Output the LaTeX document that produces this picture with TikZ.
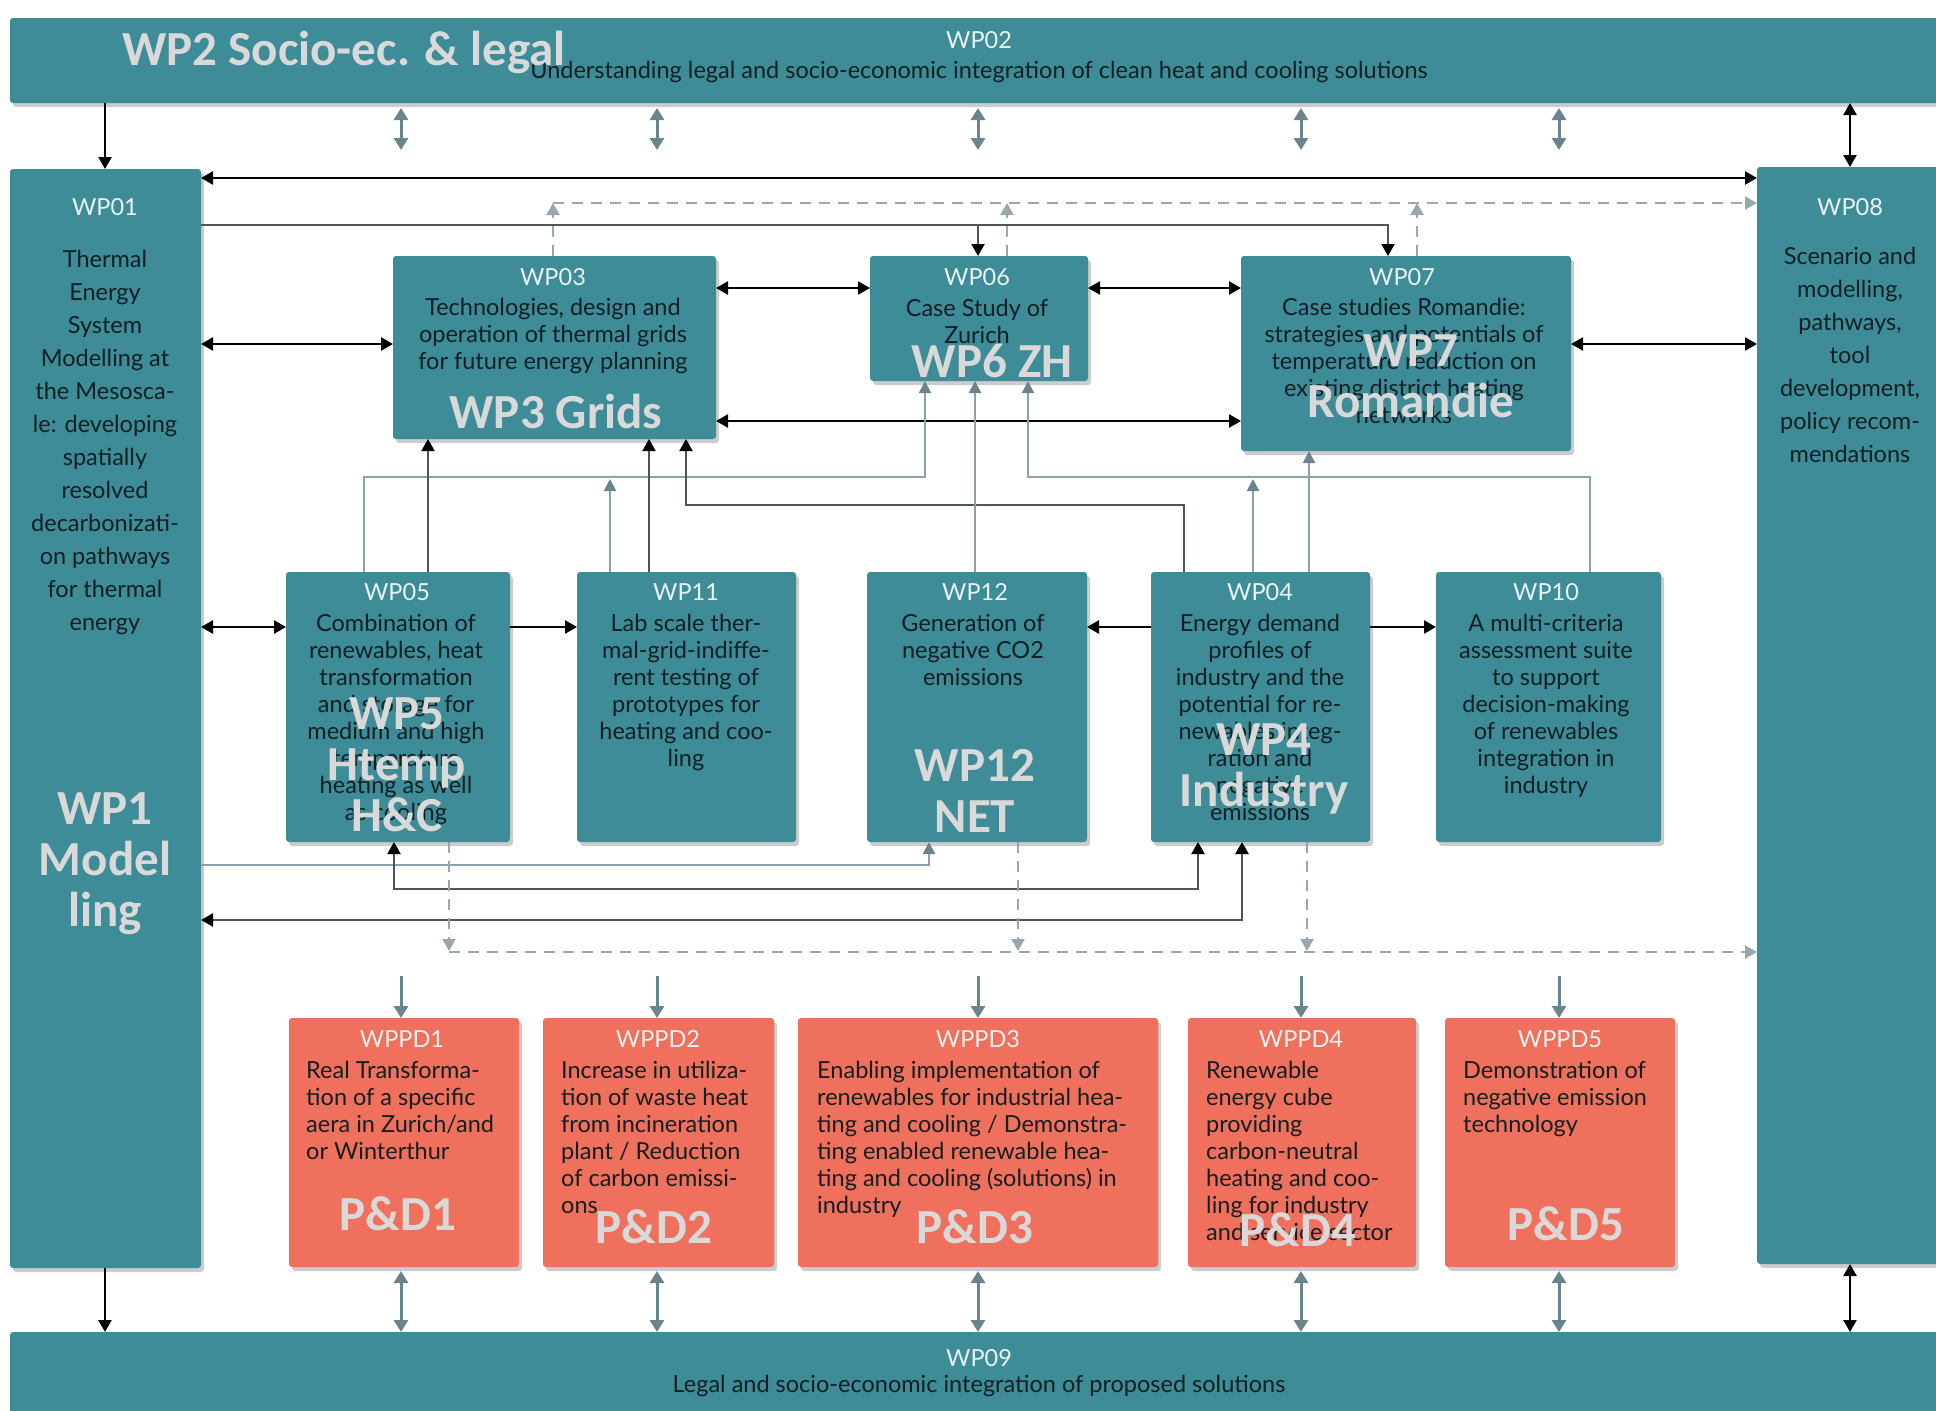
\documentclass[tikz,border=0pt]{standalone}
\usepackage{fontspec}
\setmainfont{Lato}
\newfontfamily\ovfont{Carlito}
\usetikzlibrary{arrows.meta,shadows}
\definecolor{tealc}{RGB}{62,140,151}
\definecolor{salmc}{RGB}{239,112,92}
\definecolor{garrowc}{RGB}{106,132,142}
\definecolor{glinec}{RGB}{140,162,170}
\definecolor{dlinec}{RGB}{80,86,88}
\definecolor{dashc}{RGB}{152,168,174}
\definecolor{txtc}{RGB}{20,32,36}
\definecolor{lblc}{RGB}{234,242,242}
\definecolor{ovc}{RGB}{217,217,217}
\begin{document}
\begin{tikzpicture}[x=1pt,y=-1pt,
  box/.style={fill=tealc, rounded corners=3pt, inner sep=0pt, outer sep=0pt, anchor=north west,
    drop shadow={shadow xshift=3pt,shadow yshift=-4pt,opacity=0.4}},
  pdbox/.style={box, fill=salmc},
  lbl/.style={inner sep=0pt, text=lblc, font=\fontsize{23.5}{27}\selectfont},
  btxt/.style={inner sep=0pt, text=txtc, align=center, anchor=north, font=\fontsize{23.5}{27}\selectfont},
  ltxt/.style={btxt, align=left, anchor=north west},
  wtxt/.style={btxt, font=\fontsize{23.5}{33}\selectfont},
  ov/.style={inner sep=0pt, text=ovc, align=center, font=\ovfont\bfseries\fontsize{49}{51}\selectfont},
  arr/.style={line width=2.4pt, draw=black, -{Triangle[length=12pt,width=13pt]}},
  arrs/.style={arr, {Triangle[length=12pt,width=13pt]}-{Triangle[length=12pt,width=13pt]}},
  garr/.style={line width=3pt, draw=garrowc, -{Triangle[length=12pt,width=14pt]}},
  garrs/.style={garr, {Triangle[length=12pt,width=14pt]}-{Triangle[length=12pt,width=14pt]}},
  gline/.style={line width=2pt, draw=glinec, -{Triangle[length=12pt,width=12pt,color=garrowc]}},
  dk/.style={line width=2pt, draw=dlinec, -{Triangle[length=12pt,width=13pt,color=black]}},
  dks/.style={dk, {Triangle[length=12pt,width=13pt,color=black]}-{Triangle[length=12pt,width=13pt,color=black]}},
  dsh/.style={line width=2.4pt, draw=dashc, dash pattern=on 11pt off 8pt, -{Triangle[length=12pt,width=13pt]}}
]
\clip (0,0) rectangle (1936,1411);
% ---------- boxes
\node[box,minimum width=1950pt,minimum height=85pt] (wp02) at (10,18) {};
\node[box,minimum width=191pt,minimum height=1099pt] (wp01) at (10,169) {};
\node[box,minimum width=193pt,minimum height=1097pt] (wp08) at (1757,167) {};
\node[box,minimum width=1950pt,minimum height=100pt] (wp09) at (10,1332) {};
\node[box,minimum width=323pt,minimum height=183pt] (wp03) at (393,256) {};
\node[box,minimum width=218pt,minimum height=125pt] (wp06) at (870,256) {};
\node[box,minimum width=330pt,minimum height=195pt] (wp07) at (1241,256) {};
\node[box,minimum width=224pt,minimum height=270pt] (wp05) at (286,572) {};
\node[box,minimum width=219pt,minimum height=270pt] (wp11) at (577,572) {};
\node[box,minimum width=220pt,minimum height=270pt] (wp12) at (867,572) {};
\node[box,minimum width=219pt,minimum height=270pt] (wp04) at (1151,572) {};
\node[box,minimum width=225pt,minimum height=270pt] (wp10) at (1436,572) {};
\node[pdbox,minimum width=230pt,minimum height=249pt] (pd1) at (289,1018) {};
\node[pdbox,minimum width=231pt,minimum height=249pt] (pd2) at (543,1018) {};
\node[pdbox,minimum width=360pt,minimum height=249pt] (pd3) at (798,1018) {};
\node[pdbox,minimum width=228pt,minimum height=249pt] (pd4) at (1188,1018) {};
\node[pdbox,minimum width=230pt,minimum height=249pt] (pd5) at (1445,1018) {};
% ---------- labels
\node[lbl] (l02) at (979,40) {WP02};
\node[btxt,anchor=center] (t02) at (979,72) {Understanding legal and socio-economic integration of clean heat and cooling solutions};
\node[lbl] (l09) at (979,1358) {WP09};
\node[btxt,anchor=center] (t09) at (979,1386) {Legal and socio-economic integration of proposed solutions};
\node[lbl] (l01) at (105,207) {WP01};
\node[wtxt] (t01) at (105,243.8) {\strut Thermal\\Energy\\System\\Modelling at\\the Mesosca-\\le: developing\\spatially\\resolved\\decarbonizati-\\on pathways\\for thermal\\energy};
\node[lbl] (l08) at (1850,207) {WP08};
\node[wtxt] (t08) at (1850,240.8) {\strut Scenario and\\modelling,\\pathways,\\tool\\development,\\policy recom-\\mendations};
\node[lbl] (l03) at (553,277) {WP03};
\node[btxt] (t03) at (553,296) {\strut Technologies, design and\\operation of thermal grids\\for future energy planning};
\node[lbl] (l06) at (977,277) {WP06};
\node[btxt] (t06) at (977,297) {\strut Case Study of\\Zurich};
\node[lbl] (l07) at (1402,277) {WP07};
\node[btxt] (t07) at (1404,296) {\strut Case studies Romandie:\\strategies and potentials of\\temperature reduction on\\existing district heating\\networks};
\node[lbl] (l05) at (397,592) {WP05};
\node[btxt] (t05) at (396,612) {\strut Combination of\\renewables, heat\\transformation\\and storage for\\medium and high\\temperature\\heating as well\\as cooling};
\node[lbl] (l11) at (686,592) {WP11};
\node[btxt] (t11) at (686,612) {\strut Lab scale ther-\\mal-grid-indiffe-\\rent testing of\\prototypes for\\heating and coo-\\ling};
\node[lbl] (l12) at (975,592) {WP12};
\node[btxt] (t12) at (973,612) {\strut Generation of\\negative CO2\\emissions};
\node[lbl] (l04) at (1260,592) {WP04};
\node[btxt] (t04) at (1260,612) {\strut Energy demand\\profiles of\\industry and the\\potential for re-\\newables integ-\\ration and\\negative\\emissions};
\node[lbl] (l10) at (1546,592) {WP10};
\node[btxt] (t10) at (1546,612) {\strut A multi-criteria\\assessment suite\\to support\\decision-making\\of renewables\\integration in\\industry};
\node[lbl] (lp1) at (402,1039) {WPPD1};
\node[ltxt] (tp1) at (306,1059) {\strut Real Transforma-\\tion of a specific\\aera in Zurich/and\\or Winterthur};
\node[lbl] (lp2) at (658,1039) {WPPD2};
\node[ltxt] (tp2) at (561,1059) {\strut Increase in utiliza-\\tion of waste heat\\from incineration\\plant / Reduction\\of carbon emissi-\\ons};
\node[lbl] (lp3) at (978,1039) {WPPD3};
\node[ltxt] (tp3) at (817,1059) {\strut Enabling implementation of\\renewables for industrial hea-\\ting and cooling / Demonstra-\\ting enabled renewable hea-\\ting and cooling (solutions) in\\industry};
\node[lbl] (lp4) at (1301,1039) {WPPD4};
\node[ltxt] (tp4) at (1206,1059) {\strut Renewable\\energy cube\\providing\\carbon-neutral\\heating and coo-\\ling for industry\\and service sector};
\node[lbl] (lp5) at (1560,1039) {WPPD5};
\node[ltxt] (tp5) at (1463,1059) {\strut Demonstration of\\negative emission\\technology};
% ---------- connectors: WP02 / WP09 / WP01 / WP08
\draw[arr] (105,0 |- wp02.south) -- (105,0 |- wp01.north);
\draw[arr] (105,0 |- wp01.south) -- (105,0 |- wp09.north);
\draw[arrs] (1850,0 |- wp02.south) -- (1850,0 |- wp08.north);
\draw[arrs] (1850,0 |- wp08.south) -- (1850,0 |- wp09.north);
\foreach \x/\p in {401/pd1,657/pd2,978/pd3,1301/pd4,1559/pd5}{
  \draw[garrs, shorten <=5pt] (\x,0 |- wp02.south) -- (\x,150);
  \draw[garr] (\x,976) -- (\x,0 |- \p.north);
  \draw[garrs, shorten <=4pt] (\x,0 |- \p.south) -- (\x,0 |- wp09.north);
}
\draw[arrs] (wp01.east |- 0,178) -- (wp08.west |- 0,178);
% dashed upward feedback
\draw[dsh] (553,0 |- wp03.north) -- (553,203);
\draw[dsh] (1007,0 |- wp06.north) -- (1007,203);
\draw[dsh] (1417,0 |- wp07.north) -- (1417,203);
\draw[dsh] (553,203) -- (wp08.west |- 0,203);
% WP01 to WP06 / WP07
\draw[dk] (wp01.east |- 0,225) -| (1388,0 |- wp07.north);
\draw[dk] (978,225) -- (978,0 |- wp06.north);
% top row links
\draw[arrs] (wp03.east |- 0,288) -- (wp06.west |- 0,288);
\draw[arrs] (wp06.east |- 0,288) -- (wp07.west |- 0,288);
\draw[arrs] (wp01.east |- 0,344) -- (wp03.west |- 0,344);
\draw[arrs] (wp07.east |- 0,344) -- (wp08.west |- 0,344);
\draw[arrs] (wp03.east |- 0,421) -- (wp07.west |- 0,421);
% middle row links
\draw[arrs] (wp01.east |- 0,627) -- (wp05.west |- 0,627);
\draw[arr] (wp05.east |- 0,627) -- (wp11.west |- 0,627);
\draw[arr] (wp04.west |- 0,627) -- (wp12.east |- 0,627);
\draw[arr] (wp04.east |- 0,627) -- (wp10.west |- 0,627);
% middle to top
\draw[gline] (364,0 |- wp05.north) |- (925,477) -- (925,0 |- wp06.south);
\draw[dk] (428,0 |- wp05.north) -- (428,0 |- wp03.south);
\draw[gline] (610,0 |- wp11.north) -- (610,479);
\draw[dk] (649,0 |- wp11.north) -- (649,0 |- wp03.south);
\draw[dk] (1184,0 |- wp04.north) |- (686,505) -- (686,0 |- wp03.south);
\draw[gline] (975,0 |- wp12.north) -- (975,0 |- wp06.south);
\draw[gline] (1253,0 |- wp04.north) -- (1253,479);
\draw[gline] (1590,0 |- wp10.north) |- (1028,477) -- (1028,0 |- wp06.south);
\draw[gline] (1309,0 |- wp04.north) -- (1309,0 |- wp07.south);
% lower links
\draw[gline] (wp01.east |- 0,865) -| (929,0 |- wp12.south);
\draw[dks] (394,0 |- wp05.south) |- (1198,889) -- (1198,0 |- wp04.south);
\draw[dks, line width=2.4pt] (wp01.east |- 0,920) -| (1242,0 |- wp04.south);
% dashed downward
\draw[dsh] (449,0 |- wp05.south) -- (449,951);
\draw[dsh] (1018,0 |- wp12.south) -- (1018,951);
\draw[dsh] (1307,0 |- wp04.south) -- (1307,951);
\draw[dsh] (449,952) -- (wp08.west |- 0,952);
% ---------- overlay labels
\node[ov] (o2) at (344,52) {WP2 Socio-ec. \& legal};
\node[ov] (o1) at (105,864) {WP1\\Model\\ling};
\node[ov] (o3) at (556,411) {WP3 Grids};
\node[ov] (o6) at (992,361) {WP6 ZH};
\node[ov] (o7) at (1411,376) {WP7\\Romandie};
\node[ov] (o5) at (397,765) {WP5\\Htemp\\H\&C};
\node[ov] (o12) at (975,791) {WP12\\NET};
\node[ov] (o4) at (1264,769) {WP4\\Industry};
\node[ov] (op1) at (398,1214) {P\&D1};
\node[ov] (op2) at (654,1227) {P\&D2};
\node[ov] (op3) at (975,1227) {P\&D3};
\node[ov] (op4) at (1298,1230) {P\&D4};
\node[ov] (op5) at (1566,1224) {P\&D5};
\end{tikzpicture}
\end{document}
